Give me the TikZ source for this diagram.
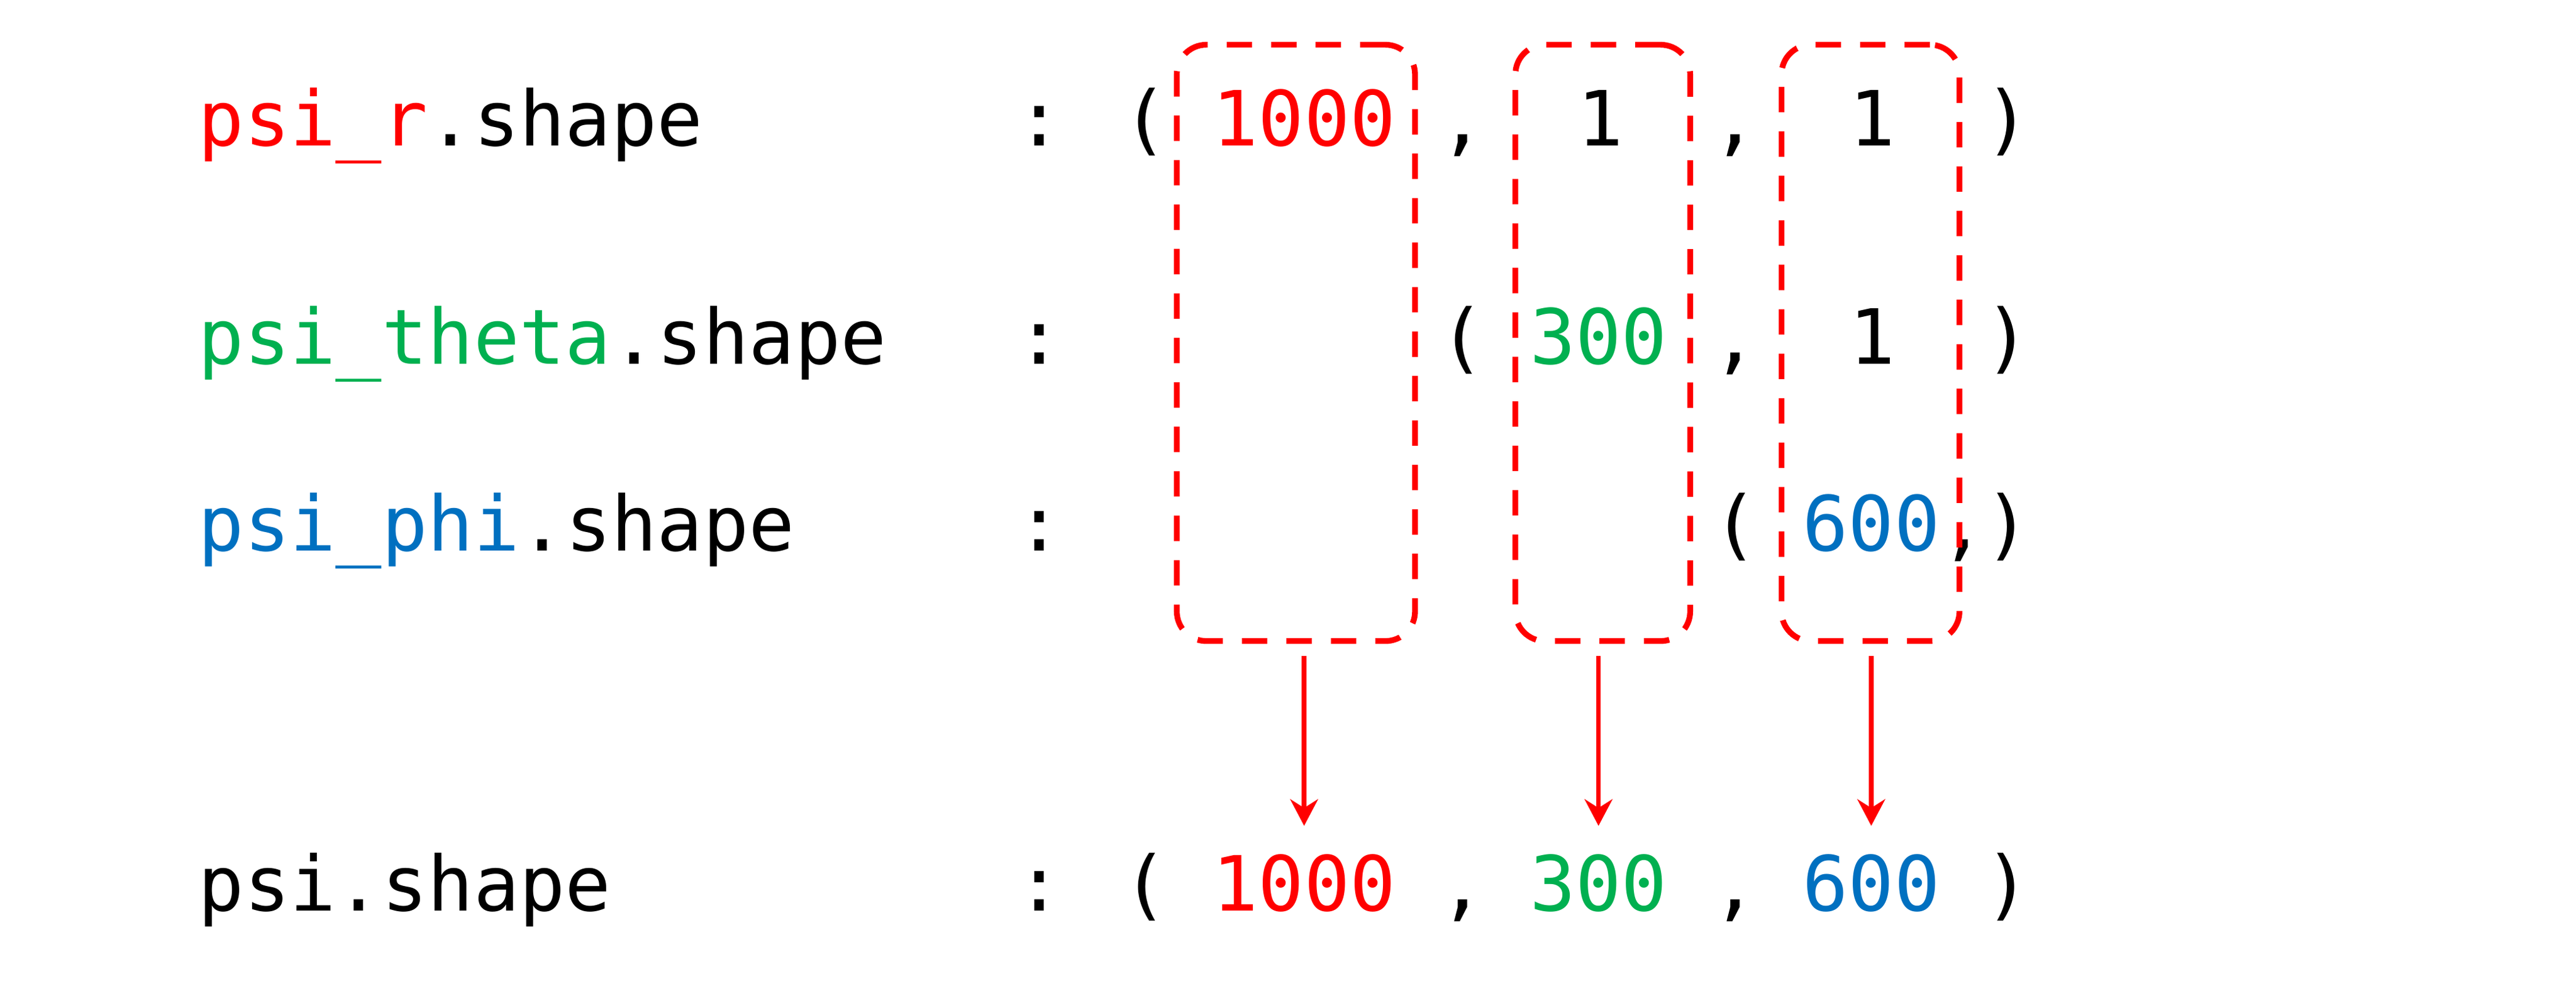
\documentclass[tikz,border=0pt]{standalone}
\usepackage{fontspec}
\setmonofont{DejaVu Sans Mono}
\usepackage{tikz}
\usetikzlibrary{arrows.meta}

\definecolor{psired}{HTML}{FF0000}
\definecolor{psigreen}{HTML}{00B050}
\definecolor{psiblue}{HTML}{0070C0}

\tikzset{
  code/.style={font=\ttfamily\fontsize{13.2pt}{15pt}\selectfont, inner sep=0pt, anchor=base},
  lhs/.style={code, anchor=base west},
  result/.style={code, inner ysep=4.7pt},
  dimbox/.style={draw=psired, line width=1pt, dash pattern=on 4.4pt off 3.3pt,
    rounded corners=0.18cm, inner sep=0pt, minimum height=3.63cm},
  pick/.style={-{Stealth[length=4.6pt,width=4.8pt,inset=1.5pt]}, draw=psired,
    line width=0.8pt, shorten <=2.1pt}
}

\begin{document}
\begin{tikzpicture}
  \useasboundingbox (0,0) rectangle (15.68,6.136);

  % psi_r
  \node[lhs] (rname) at (1.2,5.248) {\textcolor{psired}{psi\_r}.shape};
  \node[code] (rcolon) at (6.328,5.248) {:};
  \node[code] (ropen) at (6.97,5.248) {(};
  \node[code, text=psired] (rn) at (7.938,5.248) {1000};
  \node[code] (rsep1) at (8.90,5.248) {,};
  \node[code] (rt) at (9.74,5.248) {1};
  \node[code] (rsep2) at (10.56,5.248) {,};
  \node[code] (rp) at (11.395,5.248) {1};
  \node[code] (rclose) at (12.22,5.248) {)};

  % psi_theta
  \node[lhs] (tname) at (1.2,3.919) {\textcolor{psigreen}{psi\_theta}.shape};
  \node[code] (tcolon) at (6.328,3.919) {:};
  \node[code] (topen) at (8.90,3.919) {(};
  \node[code, text=psigreen] (tt) at (9.73,3.919) {300};
  \node[code] (tsep) at (10.56,3.919) {,};
  \node[code] (tp) at (11.395,3.919) {1};
  \node[code] (tclose) at (12.22,3.919) {)};

  % psi_phi
  \node[lhs] (pname) at (1.2,2.782) {\textcolor{psiblue}{psi\_phi}.shape};
  \node[code] (pcolon) at (6.328,2.782) {:};
  \node[code] (popen) at (10.565,2.782) {(};
  \node[code, text=psiblue] (pp) at (11.39,2.782) {600};
  \node[code] (psep) at (11.95,2.782) {,};
  \node[code] (pclose) at (12.22,2.782) {)};

  % psi
  \node[lhs] (sname) at (1.2,0.592) {psi.shape};
  \node[code] (scolon) at (6.328,0.592) {:};
  \node[code] (sopen) at (6.97,0.592) {(};
  \node[result, text=psired] (sn) at (7.938,0.592) {1000};
  \node[code] (ssep1) at (8.90,0.592) {,};
  \node[result, text=psigreen] (st) at (9.73,0.592) {300};
  \node[code] (ssep2) at (10.56,0.592) {,};
  \node[result, text=psiblue] (sp) at (11.39,0.592) {600};
  \node[code] (sclose) at (12.22,0.592) {)};

  % dashed boxes
  \node[dimbox, minimum width=1.45cm] (nbox) at (7.888,4.0485) {};
  \node[dimbox, minimum width=1.064cm] (tbox) at (9.756,4.0485) {};
  \node[dimbox, minimum width=1.083cm] (pbox) at (11.3855,4.0485) {};

  % arrows
  \draw[pick] (nbox.south -| sn) -- (sn.north);
  \draw[pick] (tbox.south -| st) -- (st.north);
  \draw[pick] (pbox.south -| sp) -- (sp.north);
\end{tikzpicture}
\end{document}
